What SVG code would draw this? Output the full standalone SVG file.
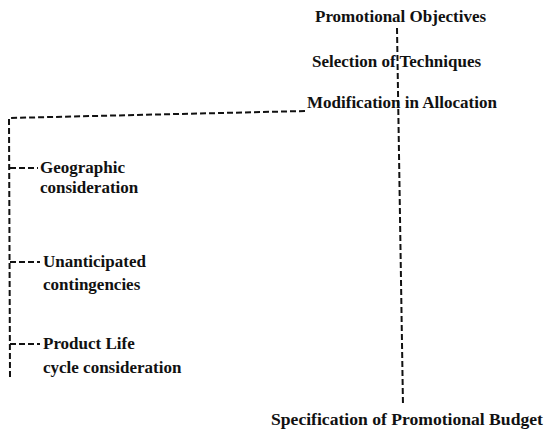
<svg xmlns="http://www.w3.org/2000/svg" width="547" height="434" viewBox="0 0 547 434">
<style>
text{font-family:"Liberation Serif","Times New Roman",serif;font-size:17px;font-weight:bold;fill:#111}
.c{fill:none;stroke:#111;stroke-width:2;stroke-dasharray:6 3}
</style>
<rect width="547" height="434" fill="#fff"/>
<g id="connectors">
<path class="c" d="M397,28 L403,406"/>
<path class="c" d="M305,111 L9,118 L10,378"/>
<path class="c" d="M10,168 L38,168"/>
<path class="c" d="M10,262 L40,262"/>
<path class="c" d="M10,344 L40,344"/>
</g>
<g id="promotional-objectives"><text x="315" y="22">Promotional Objectives</text></g>
<g id="selection-of-techniques"><text x="312" y="67">Selection of Techniques</text></g>
<g id="modification-in-allocation"><text x="307" y="108">Modification in Allocation</text></g>
<g id="geographic"><text x="40" y="173">Geographic</text><text x="40" y="193">consideration</text></g>
<g id="unanticipated"><text x="43" y="267">Unanticipated</text><text x="43" y="290">contingencies</text></g>
<g id="product-life"><text x="43" y="349">Product Life</text><text x="43" y="373">cycle consideration</text></g>
<g id="specification"><text x="271" y="425" style="font-size:17.6px">Specification of Promotional Budget</text></g>
</svg>
